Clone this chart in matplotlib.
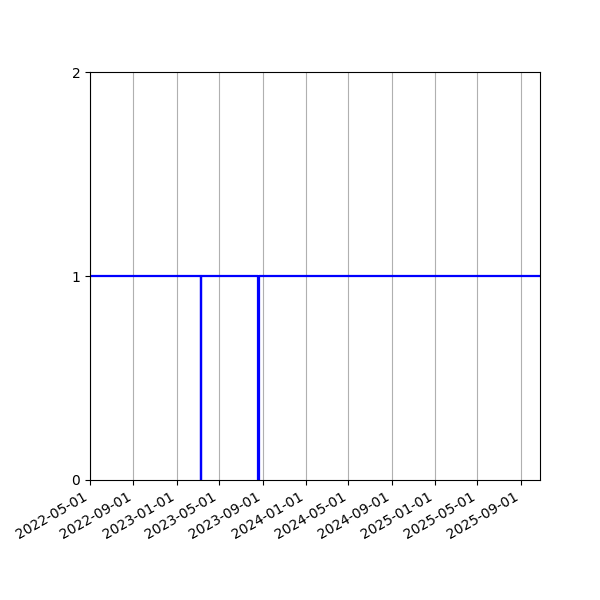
import matplotlib
matplotlib.use("Agg")
import matplotlib.pyplot as plt
import matplotlib.dates as mdates
import datetime as dt

dates = ["2022-05-01", "2023-03-10", "2023-03-11", "2023-08-20", "2023-08-21", "2025-10-25"]
values = [1, 0, 1, 0, 1, 1]

x = [dt.datetime.strptime(d, "%Y-%m-%d") for d in dates]

fig, ax = plt.subplots(figsize=(6, 6), dpi=100)
ax.plot(x, values, drawstyle="steps-post", color="blue", linewidth=1.6)
ax.set_xlim(x[0], x[-1])
ax.set_ylim(0, 2)
ax.set_yticks([0, 1, 2])
ax.xaxis.set_major_locator(mdates.MonthLocator(bymonth=[1, 5, 9]))
ax.xaxis.set_major_formatter(mdates.DateFormatter("%Y-%m-%d"))
ax.grid(True, axis="x")
fig.autofmt_xdate()
fig.subplots_adjust(left=0.15, right=0.9, top=0.88, bottom=0.2)
fig.savefig("out.png")
